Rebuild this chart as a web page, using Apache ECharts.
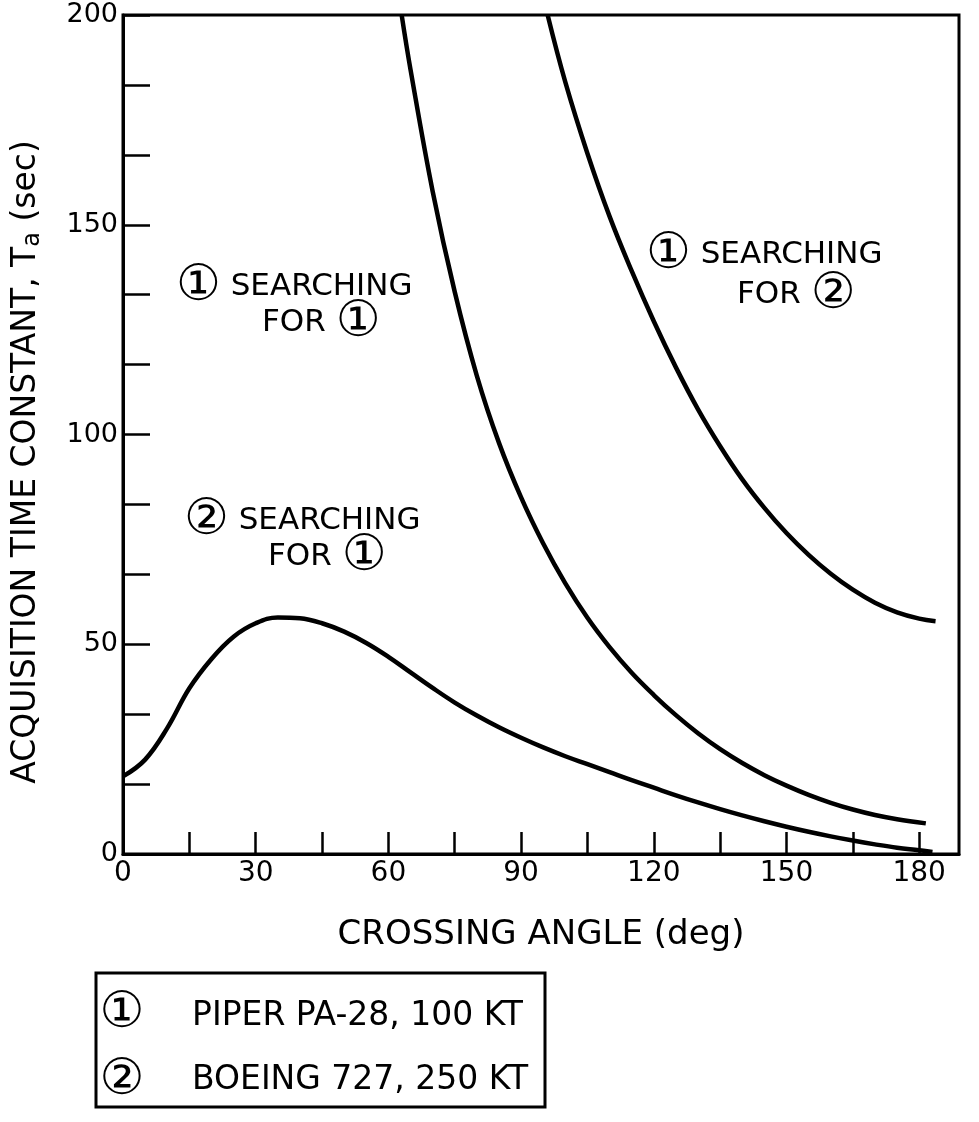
<!DOCTYPE html>
<html>
<head>
<meta charset="utf-8">
<script src="https://cdn.jsdelivr.net/npm/echarts@6/dist/echarts.min.js"></script>
<style>
html,body{margin:0;padding:0;background:#fff;}
#chart{width:979px;height:1122px;}
</style>
</head>
<body>
<div id="chart"></div>
<script>
// ---- data ----
const xLabelValues = [0, 30, 60, 90, 120, 150, 180];
const xTickValues = [15, 30, 45, 60, 75, 90, 105, 120, 135, 150, 165, 180];
const yLabelValues = [0, 50, 100, 150, 200];
const yTickValues = [16.667, 33.333, 50, 66.667, 83.333, 100, 116.667, 133.333, 150, 166.667, 183.333, 200];

// (2) searching for (1)
const angles21 = [0, 5, 10, 15, 20, 25, 30, 35, 40, 45, 50, 55, 60, 65, 70, 75, 80, 85, 90, 95, 100, 105, 110, 115, 120, 125, 130, 135, 140, 145, 150, 155, 160, 165, 170, 175, 180, 183];
const values21 = [18.5, 22.5, 30, 39.5, 46.5, 51.8, 55, 56.4, 56.2, 55, 53, 50.3, 47, 43.3, 39.6, 36.1, 33, 30.2, 27.7, 25.4, 23.3, 21.4, 19.5, 17.6, 15.8, 14, 12.3, 10.7, 9.2, 7.8, 6.5, 5.3, 4.2, 3.2, 2.3, 1.5, 0.9, 0.5];

// (1) searching for (1)
const angles11 = [63, 65, 70, 75, 80, 85, 90, 95, 100, 105, 110, 115, 120, 125, 130, 135, 140, 145, 150, 155, 160, 165, 170, 175, 181.5];
const values11 = [200, 187, 158, 134, 114, 98, 85, 74, 64.5, 56.3, 49.3, 43.2, 37.9, 33.1, 28.8, 25, 21.7, 18.8, 16.3, 14.1, 12.2, 10.6, 9.3, 8.3, 7.3];

// (1) searching for (2)
const angles12 = [96, 100, 105, 110, 115, 120, 125, 130, 135, 140, 145, 150, 155, 160, 165, 170, 175, 180, 183.7];
const values12 = [200, 184, 167, 152, 139, 127, 116, 106, 97.2, 89.3, 82.5, 76.5, 71.3, 66.8, 63, 59.9, 57.6, 56.1, 55.5];

const legendItems = ['PIPER PA-28, 100 KT', 'BOEING 727, 250 KT'];
const legendMarks = ['①', '②'];

function pairs(xs, ys) { return xs.map((x, i) => [x, ys[i]]); }

const FONT = '"DejaVu Sans", "Noto Sans CJK JP", sans-serif';
const chart = echarts.init(document.getElementById('chart'), null, {renderer: 'canvas'});

const lineStyle = {color: '#000', width: 4.5};
function series(name, xs, ys) {
  return {
    name: name, type: 'line', data: pairs(xs, ys),
    showSymbol: false, smooth: 0.4,
    lineStyle: lineStyle, itemStyle: {color: '#000'}, z: 3
  };
}

const rich = {
  c: {fontSize: 50, fontFamily: FONT, fill: '#000', verticalAlign: 'middle'},
  t: {fontSize: 31, fontFamily: FONT, fill: '#000', verticalAlign: 'middle'}
};
function ann(x, y, text) {
  return {
    type: 'text', x: x, y: y,
    style: {text: text, rich: rich, fill: '#000', fontFamily: FONT, fontSize: 31, align: 'left', verticalAlign: 'middle'}
  };
}

chart.setOption({
  animation: false,
  backgroundColor: '#fff',
  grid: {left: 123, top: 15, width: 836, height: 839, show: true, borderColor: '#000', borderWidth: 3, backgroundColor: 'transparent'},
  xAxis: {
    type: 'value', min: 0, max: 189,
    name: 'CROSSING ANGLE (deg)', nameLocation: 'middle', nameGap: 64,
    nameTextStyle: {fontFamily: FONT, fontSize: 34, color: '#000'},
    axisLine: {show: true, lineStyle: {color: '#000', width: 3}},
    axisTick: {show: true, inside: true, length: 22, customValues: xTickValues, lineStyle: {color: '#000', width: 2.5}},
    axisLabel: {customValues: xLabelValues, fontFamily: FONT, fontSize: 28, color: '#000', margin: 6},
    splitLine: {show: false}
  },
  yAxis: {
    type: 'value', min: 0, max: 200,
    axisLine: {show: true, lineStyle: {color: '#000', width: 3}},
    axisTick: {show: true, inside: true, length: 27, customValues: yTickValues, lineStyle: {color: '#000', width: 2.5}},
    axisLabel: {customValues: yLabelValues, fontFamily: FONT, fontSize: 27, color: '#000', margin: 5},
    splitLine: {show: false}
  },
  series: [
    series('(2) searching for (1)', angles21, values21),
    series('(1) searching for (1)', angles11, values11),
    series('(1) searching for (2)', angles12, values12)
  ],
  graphic: [
    {
      type: 'text', x: 26, y: 462, rotation: Math.PI / 2,
      style: {
        text: 'ACQUISITION TIME CONSTANT, T{s|a} (sec)',
        fontFamily: FONT, fontSize: 33, fill: '#000', align: 'center', verticalAlign: 'middle',
        rich: {s: {fontFamily: FONT, fontSize: 24, fill: '#000', verticalAlign: 'bottom', padding: [14, 0, 0, 0]}}
      }
    },
    ann(176, 287, '{c|①}{t| SEARCHING}'),
    ann(262, 323, '{t|FOR }{c|①}'),
    ann(184, 521, '{c|②}{t| SEARCHING}'),
    ann(268, 557, '{t|FOR }{c|①}'),
    ann(646, 255, '{c|①}{t| SEARCHING}'),
    ann(737, 295, '{t|FOR }{c|②}'),
    {
      type: 'rect', shape: {x: 96, y: 973, width: 449, height: 134},
      style: {fill: 'none', stroke: '#000', lineWidth: 3}
    },
    {type: 'text', x: 122, y: 1014, style: {text: legendMarks[0], fontFamily: FONT, fontSize: 50, fill: '#000', align: 'center', verticalAlign: 'middle'}},
    {type: 'text', x: 122, y: 1081, style: {text: legendMarks[1], fontFamily: FONT, fontSize: 50, fill: '#000', align: 'center', verticalAlign: 'middle'}},
    {type: 'text', x: 192, y: 1016, style: {text: legendItems[0], fontFamily: FONT, fontSize: 33, fill: '#000', align: 'left', verticalAlign: 'middle'}},
    {type: 'text', x: 192, y: 1080, style: {text: legendItems[1], fontFamily: FONT, fontSize: 33, fill: '#000', align: 'left', verticalAlign: 'middle'}}
  ]
});
</script>
</body>
</html>
